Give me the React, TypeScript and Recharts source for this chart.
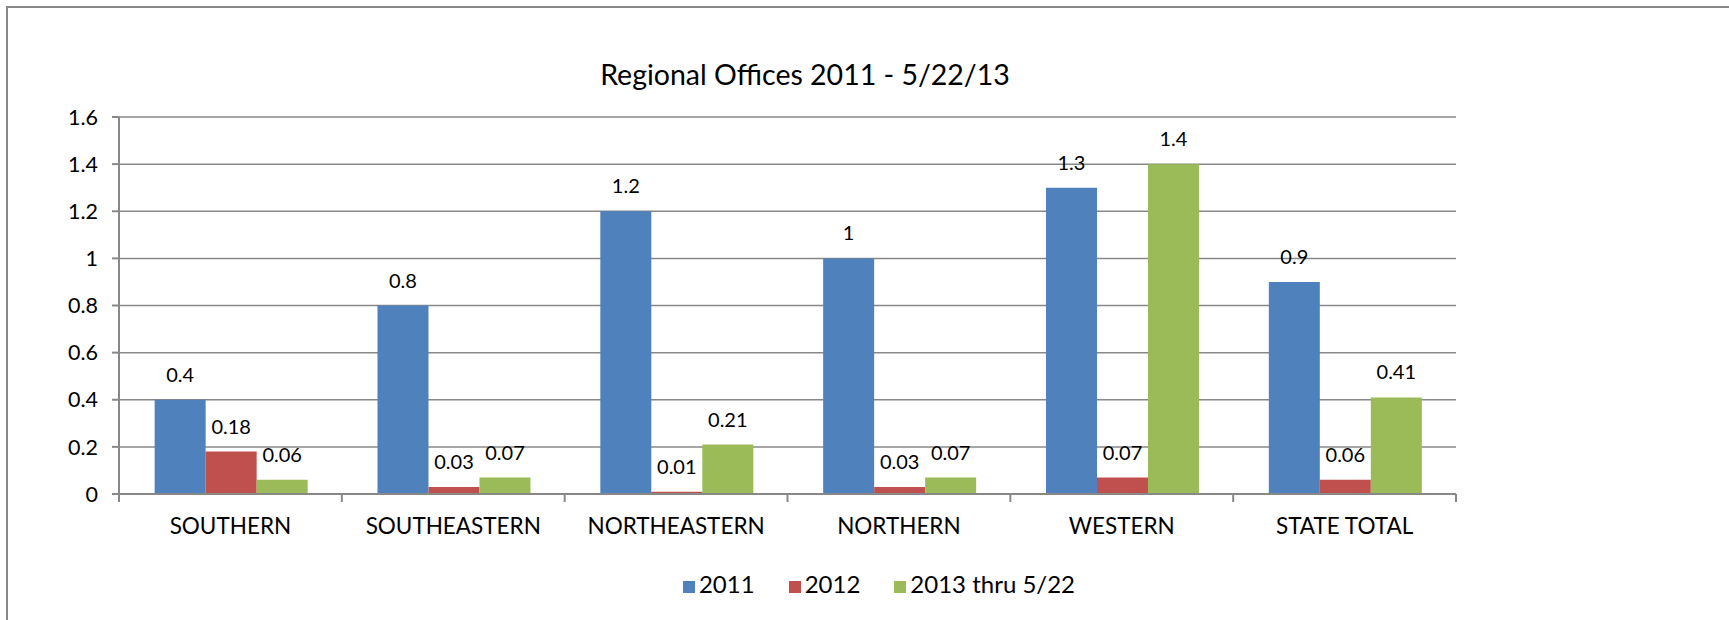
import React from "react";
import { Bar, BarChart, CartesianGrid, LabelList, Legend, XAxis, YAxis } from "recharts";

const regions = ["SOUTHERN", "SOUTHEASTERN", "NORTHEASTERN", "NORTHERN", "WESTERN", "STATE TOTAL"];
const y2011 = [0.4, 0.8, 1.2, 1, 1.3, 0.9];
const y2012 = [0.18, 0.03, 0.01, 0.03, 0.07, 0.06];
const y2013 = [0.06, 0.07, 0.21, 0.07, 1.4, 0.41];
const yTicks = [0, 0.2, 0.4, 0.6, 0.8, 1, 1.2, 1.4, 1.6];

const data = regions.map((region, i) => ({
  region,
  y2011: y2011[i],
  y2012: y2012[i],
  y2013: y2013[i]
}));

const FONT = "Lato, 'Liberation Sans', sans-serif";
const AXIS = "#888888";
const TICK_SIZE = 8;
const TICK_MARGIN = 16;

// excel puts the x ticks between the categories, so draw them from the band edges
function CategoryTick(props: any) {
  const { x, y, payload, index, visibleTicksCount } = props;
  const half = payload?.offset ?? 0;
  const axisY = y - TICK_SIZE - TICK_MARGIN;
  const last = index === visibleTicksCount - 1;
  return (
    <g>
      <line x1={x - half} x2={x - half} y1={axisY} y2={axisY + TICK_SIZE} stroke={AXIS} strokeWidth={2} />
      {last && (
        <line x1={x + half} x2={x + half} y1={axisY} y2={axisY + TICK_SIZE} stroke={AXIS} strokeWidth={2} />
      )}
      <text x={x} y={y} dy="0.71em" textAnchor="middle" fill="#000" fontSize={22.5} fontFamily={FONT}>
        {payload.value}
      </text>
    </g>
  );
}

const labelStyle = { fill: "#000", fontSize: 20, fontFamily: FONT };

export default function App() {
  return (
    <div style={{ position: "absolute", left: 0, top: 0, width: 1729, height: 620, background: "#fff" }}>
      <div
        style={{
          position: "absolute",
          left: 6,
          top: 6,
          right: 0,
          bottom: 0,
          borderTop: `2px solid ${AXIS}`,
          borderLeft: `2px solid ${AXIS}`
        }}
      />
      <div
        style={{
          position: "absolute",
          top: 57,
          left: 455,
          width: 700,
          textAlign: "center",
          fontFamily: FONT,
          fontSize: 28.5,
          lineHeight: "34px",
          color: "#000"
        }}
      >
        Regional Offices 2011 - 5/22/13
      </div>
      <BarChart
        width={1729}
        height={620}
        data={data}
        margin={{ top: 117, right: 273, bottom: 37, left: 60 }}
        barCategoryGap="16%"
        barGap={0}
      >
        <CartesianGrid vertical={false} stroke={AXIS} strokeWidth={1.5} />
        <XAxis
          dataKey="region"
          stroke={AXIS}
          strokeWidth={2}
          tickLine={false}
          tickSize={TICK_SIZE}
          tickMargin={TICK_MARGIN}
          tick={<CategoryTick />}
          interval={0}
          height={60}
        />
        <YAxis
          domain={[0, 1.6]}
          ticks={yTicks}
          stroke={AXIS}
          strokeWidth={2}
          tickSize={7}
          tickMargin={14}
          width={59}
          tick={{ fill: "#000", fontSize: 21.5, fontFamily: FONT }}
        />
        <Legend
          verticalAlign="bottom"
          iconType="square"
          iconSize={12}
          wrapperStyle={{ left: 546, width: 700, bottom: 22, fontFamily: FONT, fontSize: 24, lineHeight: "29px" }}
          formatter={(v) => <span style={{ color: "#000", marginRight: 24 }}>{v}</span>}
        />
        <Bar dataKey="y2011" name="2011" fill="#4F81BD" isAnimationActive={false}>
          <LabelList dataKey="y2011" position="top" offset={18} style={labelStyle} />
        </Bar>
        <Bar dataKey="y2012" name="2012" fill="#C0504D" isAnimationActive={false}>
          <LabelList dataKey="y2012" position="top" offset={18} style={labelStyle} />
        </Bar>
        <Bar dataKey="y2013" name="2013 thru 5/22" fill="#9BBB59" isAnimationActive={false}>
          <LabelList dataKey="y2013" position="top" offset={18} style={labelStyle} />
        </Bar>
      </BarChart>
    </div>
  );
}
